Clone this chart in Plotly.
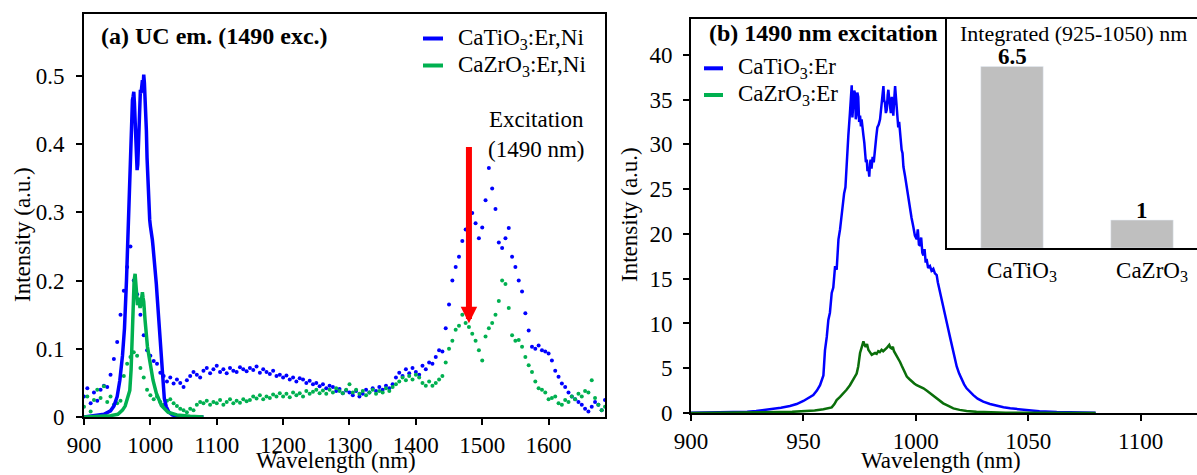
import plotly.graph_objects as go

W, H = 1197, 475
FONT = "Liberation Serif, Times New Roman, serif"
BLUE = "#0000ff"
GREEN = "#00b050"
DKGREEN = "#0a6e0a"

# ---------------- Panel (a) data ----------------
# dotted broad-range spectra (5 nm sampling, 900..1685)
dot_wl = list(range(900, 1690, 5))
dot_ti = [
    0.030, 0.042, 0.020, 0.036, 0.024, 0.040, 0.046, 0.044, 0.062, 0.085,
    0.110, 0.150, 0.185, 0.220, 0.250, 0.200, 0.180, 0.150, 0.120, 0.098,
    0.090, 0.082, 0.078, 0.065, 0.060, 0.052, 0.058, 0.049, 0.055, 0.050,
    0.044, 0.054, 0.060, 0.066, 0.062, 0.058, 0.068, 0.072, 0.064, 0.070,
    0.075, 0.066, 0.070, 0.064, 0.072, 0.068, 0.066, 0.073, 0.070, 0.067,
    0.072, 0.069, 0.074, 0.065, 0.070, 0.066, 0.063, 0.068, 0.060, 0.062,
    0.058, 0.061, 0.055, 0.058, 0.052, 0.057, 0.055, 0.050, 0.053, 0.048,
    0.050, 0.045, 0.048, 0.042, 0.046, 0.044, 0.038, 0.041, 0.035, 0.039,
    0.036, 0.032, 0.038, 0.030, 0.034, 0.040, 0.036, 0.042, 0.038, 0.044,
    0.040, 0.046, 0.042, 0.048, 0.058, 0.065, 0.060, 0.070, 0.064, 0.072,
    0.066, 0.062, 0.075, 0.070, 0.080, 0.078, 0.088, 0.098, 0.096, 0.130,
    0.165, 0.200, 0.220, 0.235, 0.258, 0.275, 0.285, 0.299, 0.284, 0.262,
    0.278, 0.318, 0.365, 0.335, 0.305, 0.256, 0.248, 0.262, 0.277, 0.235,
    0.220, 0.200, 0.184, 0.152, 0.127, 0.103, 0.100, 0.105, 0.098, 0.096,
    0.093, 0.083, 0.068, 0.059, 0.049, 0.044, 0.036, 0.030, 0.026, 0.022,
    0.018, 0.012, 0.008, 0.015, 0.022, 0.018, 0.010, 0.025,
]
dot_zr = [
    0.015, 0.030, 0.008, 0.025, 0.040, 0.028, 0.045, 0.022, 0.030, 0.018,
    0.020, 0.024, 0.060, 0.078, 0.088, 0.095, 0.090, 0.072, 0.058, 0.040,
    0.032, 0.026, 0.030, 0.022, 0.018, 0.024, 0.026, 0.020, 0.016, 0.012,
    0.010, 0.007, 0.012, 0.010, 0.018, 0.022, 0.020, 0.024, 0.018, 0.022,
    0.020, 0.025, 0.018, 0.022, 0.026, 0.020, 0.024, 0.021, 0.026, 0.023,
    0.025, 0.030, 0.027, 0.032, 0.026, 0.030, 0.028, 0.033, 0.030, 0.035,
    0.030, 0.034, 0.029, 0.036, 0.032, 0.035, 0.030, 0.038, 0.034, 0.037,
    0.040, 0.035, 0.039, 0.034, 0.040, 0.036, 0.042, 0.038, 0.035, 0.040,
    0.048, 0.036, 0.040, 0.034, 0.038, 0.032, 0.036, 0.040, 0.034, 0.038,
    0.036, 0.042, 0.038, 0.044, 0.048, 0.052, 0.058, 0.054, 0.060, 0.055,
    0.062, 0.058, 0.050, 0.046, 0.052, 0.046, 0.050, 0.055, 0.060, 0.080,
    0.100, 0.112, 0.128, 0.134, 0.150, 0.138, 0.132, 0.122, 0.112, 0.098,
    0.083, 0.118, 0.130, 0.138, 0.150, 0.170, 0.200, 0.195, 0.160, 0.120,
    0.112, 0.113, 0.103, 0.088, 0.076, 0.066, 0.052, 0.042, 0.040, 0.036,
    0.026, 0.028, 0.030, 0.020, 0.018, 0.025, 0.022, 0.030, 0.026, 0.034,
    0.030, 0.038, 0.036, 0.054, 0.028, 0.018, 0.010, 0.015,
]

# solid UC emission around 980 nm
uc_ti_wl = [900, 910, 920, 930, 940, 945, 950, 954, 958, 961, 964, 966, 968, 970, 971, 972,
            973, 974, 975, 976, 977, 978, 979, 980, 981, 982, 983, 984, 985, 986, 987, 988,
            989, 990, 991, 992, 993, 994, 995, 996, 997, 998, 999, 1000, 1001, 1002, 1003,
            1004, 1005, 1006, 1007, 1008, 1009, 1010, 1012, 1013, 1015, 1017, 1019, 1021,
            1024, 1028, 1033, 1040, 1050, 1080]
uc_ti = [0.0, 0.001, 0.002, 0.004, 0.009, 0.016, 0.030, 0.054, 0.090, 0.130, 0.200, 0.260,
         0.300, 0.400, 0.430, 0.450, 0.465, 0.470, 0.477, 0.460, 0.440, 0.400, 0.380, 0.362,
         0.370, 0.400, 0.430, 0.460, 0.480, 0.475, 0.490, 0.494, 0.480, 0.502, 0.490, 0.470,
         0.460, 0.420, 0.380, 0.350, 0.320, 0.300, 0.289, 0.280, 0.275, 0.265, 0.260, 0.250,
         0.240, 0.235, 0.225, 0.210, 0.195, 0.180, 0.150, 0.132, 0.100, 0.070, 0.045, 0.027,
         0.015, 0.007, 0.003, 0.001, 0.0, 0.0]
uc_zr_wl = [900, 920, 940, 951, 958, 962, 966, 969, 971, 972.5, 974, 975.5, 977, 978, 979,
            980.6, 982, 983, 984.5, 985.6, 987, 988, 989, 990, 992, 994, 995.6, 999, 1004,
            1009, 1016.6, 1026.6, 1040, 1060, 1080]
uc_zr = [0.0, 0.001, 0.002, 0.004, 0.010, 0.016, 0.028, 0.039, 0.070, 0.108, 0.171, 0.200,
         0.210, 0.195, 0.180, 0.164, 0.175, 0.171, 0.160, 0.165, 0.178, 0.183, 0.175, 0.169,
         0.142, 0.118, 0.103, 0.083, 0.054, 0.035, 0.017, 0.007, 0.003, 0.001, 0.0]

# ---------------- Panel (b) data ----------------
b_ti_wl = [900, 905, 910, 915, 920, 925, 929, 933, 936.6, 940, 944, 947, 950, 952, 954.4, 956,
           957.4, 958.9, 959.6, 960.4, 961.1, 961.8, 962.6, 963.3, 964.1, 964.8, 965.6, 966.3,
           967.0, 967.5, 968.1, 968.7, 969.3, 970.0, 970.7, 971.1, 971.5, 971.8, 972.2, 972.6,
           973.0, 973.3, 973.7, 974.0, 974.4, 974.8, 975.2, 975.6, 975.9, 976.3, 976.7, 977.1,
           977.4, 977.8, 978.2, 978.5, 978.9, 979.3, 979.6, 979.9, 980.3, 980.8, 981.3, 981.9,
           982.4, 982.9, 983.5, 984.1, 984.5, 984.8, 985.2, 985.6, 985.9, 986.3, 986.7, 987.1,
           987.5, 987.8, 988.2, 988.5, 988.9, 989.3, 989.6, 990.0, 990.4, 990.8, 991.1, 991.5,
           991.9, 992.2, 992.6, 993.0, 993.3, 993.7, 994.1, 994.5, 995.2, 995.9, 996.7, 997.4,
           998.1, 998.9, 999.6, 1000.4, 1000.9, 1001.4, 1001.9, 1002.4, 1002.9, 1003.4, 1003.9,
           1004.4, 1004.8, 1005.5, 1006.3, 1007.0, 1007.8, 1008.5, 1009.3, 1009.8, 1010.3,
           1010.8, 1011.5, 1012.3, 1013.0, 1013.7, 1014.5, 1015.2, 1016.0, 1016.7, 1017.5,
           1018.2, 1019.3, 1020.4, 1021.5, 1022.6, 1024, 1025.6, 1027.5, 1030, 1033, 1036,
           1039, 1042, 1046, 1049.3, 1055, 1062.7, 1070, 1080]
b_ti = [0.03, 0.04, 0.05, 0.07, 0.10, 0.15, 0.22, 0.32, 0.45, 0.58, 0.78, 1.0, 1.34, 1.6, 2.0,
        2.5, 3.1, 4.2, 7.0, 8.5, 10.4, 11.2, 13.4, 14.0, 16.4, 16.0, 19.4, 20.5, 22.3, 23.8,
        24.5, 25.2, 28.2, 31.0, 33.5, 36.0, 36.6, 33.0, 34.2, 36.0, 35.7, 32.8, 33.5, 35.8,
        35.3, 32.5, 33.2, 32.0, 32.8, 31.5, 31.0, 30.2, 29.4, 28.0, 28.3, 27.0, 27.5, 26.4,
        27.8, 28.3, 27.3, 28.6, 28.0, 30.1, 30.8, 31.9, 32.2, 32.8, 34.0, 35.0, 36.2, 36.5,
        35.0, 34.6, 33.5, 33.9, 35.5, 36.1, 35.0, 34.2, 33.5, 35.3, 34.0, 33.2, 35.0, 36.5,
        35.5, 34.2, 33.0, 31.9, 32.5, 31.0, 29.8, 29.4, 29.0, 27.5, 26.5, 25.3, 24.0, 23.0,
        21.8, 20.8, 19.8, 19.4, 20.5, 18.8, 18.7, 19.6, 17.9, 17.6, 18.3, 16.8, 17.2, 16.2,
        16.4, 15.9, 16.1, 15.6, 15.4, 14.6, 14.0, 13.4, 12.6, 11.9, 11.0, 10.1, 9.3, 8.5,
        7.6, 6.7, 5.9, 5.2, 4.4, 3.7, 3.2, 2.76, 2.35, 2.0, 1.6, 1.26, 1.0, 0.78, 0.64,
        0.52, 0.40, 0.30, 0.20, 0.11, 0.07, 0.04]
b_zr_wl = [900, 910, 920, 930, 940, 945, 951.5, 955, 958.9, 961, 962.6, 963.8, 964.8, 966.3,
           967.8, 969.2, 970.7, 972.2, 973.7, 974.4, 975.2, 975.9, 976.7, 977.2, 977.7, 978.3,
           978.9, 979.6, 980.4, 981.1, 981.9, 982.6, 983.3, 984.0, 984.8, 985.5, 986.3, 987.2,
           988.2, 988.7, 989.3, 989.8, 990.3, 991.0, 991.8, 992.4, 993.0, 993.7, 994.5, 995.2,
           996.0, 997.1, 998.2, 999.3, 1000.4, 1001.9, 1003.4, 1004.8, 1006.3, 1007.8, 1009.3,
           1010.8, 1012.2, 1014.5, 1016.7, 1019.5, 1022.6, 1027, 1033, 1040, 1047.8, 1060, 1080]
b_zr = [0.0, 0.01, 0.02, 0.05, 0.10, 0.13, 0.22, 0.28, 0.41, 0.50, 0.63, 1.0, 1.45, 1.8, 2.2,
        2.6, 3.1, 3.7, 4.4, 5.2, 6.7, 7.3, 8.0, 7.6, 7.4, 7.7, 7.06, 6.8, 6.5, 6.6, 6.7, 6.6,
        6.9, 6.8, 7.06, 6.9, 7.06, 7.3, 7.6, 7.3, 7.2, 7.4, 6.9, 6.6, 6.3, 6.0, 5.7, 5.3, 4.8,
        4.4, 4.07, 3.8, 3.5, 3.3, 3.1, 2.95, 2.76, 2.5, 2.2, 1.9, 1.64, 1.35, 1.08, 0.8, 0.52,
        0.35, 0.22, 0.13, 0.07, 0.04, 0.02, 0.01, 0.0]

# inset: integrated intensity (925-1050 nm), normalised
inset_cats = ["CaTiO<sub>3</sub>", "CaZrO<sub>3</sub>"]
inset_vals = [6.5, 1]
inset_text = ["6.5", "1"]

# legend entries (label, colour) for each panel
legend_a = [("CaTiO<sub>3</sub>:Er,Ni", BLUE), ("CaZrO<sub>3</sub>:Er,Ni", GREEN)]
legend_b = [("CaTiO<sub>3</sub>:Er", BLUE), ("CaZrO<sub>3</sub>:Er", GREEN)]


def px_x(p):
    return p / W


def px_y(p):
    return 1 - p / H


fig = go.Figure()

# panel (a)
fig.add_trace(go.Scatter(x=dot_wl, y=dot_ti, mode="markers", marker=dict(color=BLUE, size=4),
                         showlegend=False, xaxis="x", yaxis="y"))
fig.add_trace(go.Scatter(x=dot_wl, y=dot_zr, mode="markers", marker=dict(color=GREEN, size=4),
                         showlegend=False, xaxis="x", yaxis="y"))
fig.add_trace(go.Scatter(x=uc_ti_wl, y=uc_ti, mode="lines", line=dict(color=BLUE, width=3.5),
                         name="CaTiO3:Er,Ni", showlegend=False, xaxis="x", yaxis="y"))
fig.add_trace(go.Scatter(x=uc_zr_wl, y=uc_zr, mode="lines", line=dict(color=GREEN, width=3.5),
                         name="CaZrO3:Er,Ni", showlegend=False, xaxis="x", yaxis="y"))

# panel (b)
fig.add_trace(go.Scatter(x=b_ti_wl, y=b_ti, mode="lines", line=dict(color=BLUE, width=2.5),
                         name="CaTiO3:Er", showlegend=False, xaxis="x2", yaxis="y2"))
fig.add_trace(go.Scatter(x=b_zr_wl, y=b_zr, mode="lines", line=dict(color=DKGREEN, width=2.5),
                         name="CaZrO3:Er", showlegend=False, xaxis="x2", yaxis="y2"))

# inset
fig.add_trace(go.Bar(x=inset_cats, y=inset_vals, marker=dict(color="#bfbfbf"),
                     showlegend=False, xaxis="x3", yaxis="y3"))

FS = 23
tickfont = dict(size=FS, color="black", family=FONT)
common = dict(showgrid=False, zeroline=False, showline=True, linecolor="black", linewidth=2,
              ticks="outside", ticklen=6, tickwidth=1.5, tickcolor="black", tickfont=tickfont,
              automargin=False)

fig.update_layout(
    width=W, height=H, autosize=False,
    margin=dict(l=0, r=0, t=0, b=0, pad=0, autoexpand=False),
    paper_bgcolor="white", plot_bgcolor="white",
    font=dict(family=FONT, size=FS, color="black"),
    bargap=0.52, showlegend=False,
    xaxis=dict(domain=[px_x(84), px_x(605)], range=[900, 1685],
               tickvals=[900, 1000, 1100, 1200, 1300, 1400, 1500, 1600],
               mirror=True, anchor="y", ticklabelstandoff=0, **common),
    yaxis=dict(domain=[px_y(417), px_y(14)], range=[0, 0.591], tickvals=[0, 0.1, 0.2, 0.3, 0.4, 0.5],
               ticktext=["0", "0.1", "0.2", "0.3", "0.4", "0.5"],
               mirror=True, anchor="x", ticklabelstandoff=7, **common),
    xaxis2=dict(domain=[px_x(691), 1.0], range=[900, 1125.1], tickvals=[900, 950, 1000, 1050, 1100],
                mirror=True, anchor="y2", ticklabelstandoff=0, **common),
    yaxis2=dict(domain=[px_y(413), px_y(19)], range=[0, 44.0], tickvals=[0, 5, 10, 15, 20, 25, 30, 35, 40],
                mirror=False, anchor="x2", ticklabelstandoff=6, **common),
    xaxis3=dict(domain=[px_x(947), 1.0], range=[-0.5, 1.423], type="category", anchor="y3",
                showgrid=False, zeroline=False, showline=True, linecolor="black", linewidth=2,
                ticks="", tickfont=tickfont, ticklabelstandoff=0, ticklabelshift=10, automargin=False),
    yaxis3=dict(domain=[px_y(248), px_y(19)], range=[0, 8.2], anchor="x3",
                showgrid=False, zeroline=False, showline=True, linecolor="black", linewidth=1.5,
                ticks="", showticklabels=False, automargin=False),
)

annotations = [
    dict(text="<b>(a) UC em. (1490 exc.)</b>", x=px_x(99), y=px_y(36), xref="paper", yref="paper",
         xanchor="left", yanchor="middle", showarrow=False, font=dict(size=24)),
    dict(text="<b>(b) 1490 nm excitation</b>", x=px_x(707), y=px_y(33), xref="paper", yref="paper",
         xanchor="left", yanchor="middle", showarrow=False, font=dict(size=24)),
    dict(text="Excitation<br>(1490 nm)", x=px_x(535.5), y=px_y(134.5), xref="paper", yref="paper",
         xanchor="center", yanchor="middle", showarrow=False, font=dict(size=FS)),
    dict(text="", x=1480, y=0.1375, ax=1480, ay=0.398, xref="x", yref="y", axref="x", ayref="y",
         showarrow=True, arrowcolor="#ff0000", arrowwidth=6, arrowhead=2, arrowsize=0.55, standoff=0),
    dict(text="Integrated (925-1050) nm", x=px_x(1073), y=px_y(33), xref="paper", yref="paper",
         xanchor="center", yanchor="middle", showarrow=False, font=dict(size=22)),
    dict(text="Wavelength (nm)", x=px_x(335.5), y=0, xref="paper", yref="paper",
         xanchor="center", yanchor="bottom", showarrow=False, font=dict(size=FS)),
    dict(text="Wavelength (nm)", x=px_x(941), y=0, xref="paper", yref="paper",
         xanchor="center", yanchor="bottom", showarrow=False, font=dict(size=FS)),
    dict(text="Intensity (a.u.)", x=px_x(22), y=px_y(235), xref="paper", yref="paper",
         xanchor="center", yanchor="middle", showarrow=False, textangle=-90, font=dict(size=FS)),
    dict(text="Intensity (a.u.)", x=px_x(629), y=px_y(215), xref="paper", yref="paper",
         xanchor="center", yanchor="middle", showarrow=False, textangle=-90, font=dict(size=FS)),
]
# bar value labels just above each bar
for cat, val, txt in zip(inset_cats, inset_vals, inset_text):
    annotations.append(dict(text="<b>" + txt + "</b>", x=cat, y=val, xref="x3", yref="y3",
                            xanchor="center", yanchor="bottom", yshift=-5, showarrow=False,
                            font=dict(size=23)))

shapes = []
# hand-drawn legends (line sample + label) for each panel
for i, (lab, col) in enumerate(legend_a):
    yc = 38.5 + 27 * i
    shapes.append(dict(type="line", xref="paper", yref="paper", x0=px_x(423), x1=px_x(443),
                       y0=px_y(yc), y1=px_y(yc), line=dict(color=col, width=4)))
    annotations.append(dict(text=lab, x=px_x(456), y=px_y(yc), xref="paper", yref="paper",
                            xanchor="left", yanchor="middle", showarrow=False, font=dict(size=FS)))
for i, (lab, col) in enumerate(legend_b):
    yc = 68.3 + 26.7 * i
    shapes.append(dict(type="line", xref="paper", yref="paper", x0=px_x(704), x1=px_x(723),
                       y0=px_y(yc), y1=px_y(yc), line=dict(color=col, width=4)))
    annotations.append(dict(text=lab, x=px_x(736), y=px_y(yc), xref="paper", yref="paper",
                            xanchor="left", yanchor="middle", showarrow=False, font=dict(size=FS)))

fig.update_layout(annotations=annotations, shapes=shapes)

fig.write_html("out.html")
